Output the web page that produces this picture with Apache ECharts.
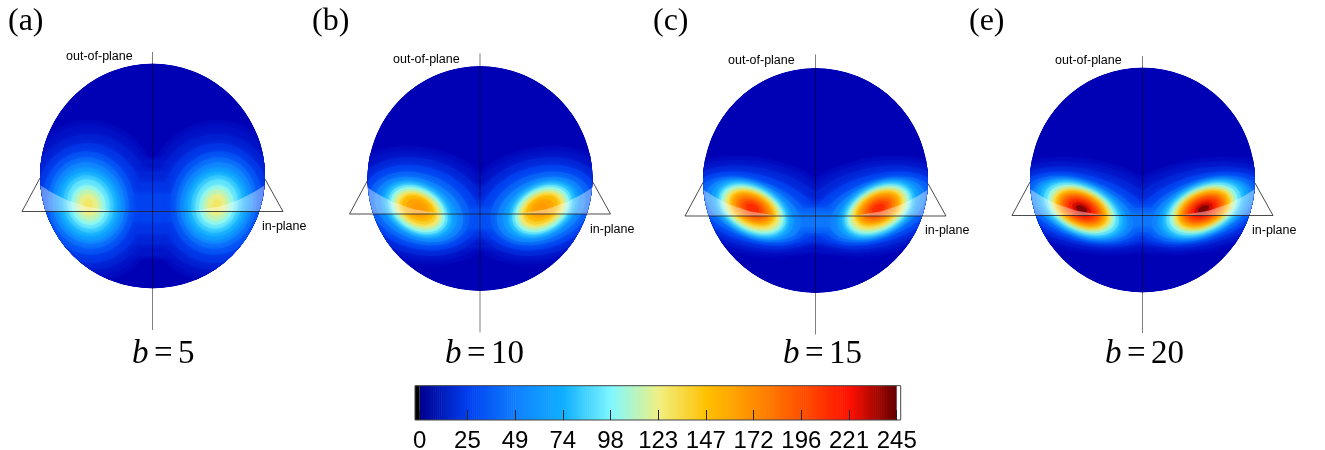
<!DOCTYPE html>
<html><head><meta charset="utf-8">
<style>html,body{margin:0;padding:0;background:#fff}#c{width:1325px;height:450px}</style>
<script src="https://cdn.jsdelivr.net/npm/echarts@6/dist/echarts.min.js"></script>
</head><body><div id="c"></div>
<script>
// Contour rows read from each sphere: [value, x, y, radiusX, radiusY, tiltDeg]; left lobe, right is its mirror
const panelA = [[0,0,0,112.5,112.5,0],[3,-62,-25,72,81,10],[6,-62,-25,68,76,10],[8,0,-32,104,48,0],[12,-62,-26,62,68,10],[14,0,-32,100,36,0],[20,-63,-27,54,60,10],[20,0,-32,95,25,0],[25,0,-32,90,14,0],[30,-64,-27,46,52,12],[40,-64,-27,40,46,12],[50,-64,-27,36,41,15],[60,-64,-28,32,37,15],[70,-64,-28,29,33,15],[80,-64,-28,25,29,15],[90,-64,-28,21,25,15],[100,-64,-29,17,20,15],[110,-64,-29,13,16,15],[120,-64,-29,9,11,15],[127,-64,-29,4,6,15]];
const panelB = [[0,0,0,112.5,112.5,0],[3,-60,-27,84,58,-12],[6,-60,-27,78,54,-12],[10,0,-38,105,30,0],[14,-60,-28,68,48,-14],[20,0,-40,100,18,0],[24,-60,-29,60,41,-16],[30,0,-40,90,10,0],[36,-61,-30,52,35,-18],[49,-61,-31,46,30,-22],[62,-61,-31,40,26,-25],[74,-62,-31,36,23,-28],[86,-62,-31,32,21.5,-30],[98,-62,-31,29,20,-30],[110,-62,-31,26,17,-30],[123,-62,-31,23,15,-30],[135,-62,-31,20,13,-30],[148,-62,-30,17,11,-30],[160,-62,-30,12,8,-30],[165,-62,-30,6,4,-30]];
const panelC = [[0,0,0,112.5,112.5,0],[3,-60,-26,90,49,-10],[6,0,-41,105,30,0],[7,-60,-26,84,45,-10],[14,-60,-27,75,40,-12],[20,0,-41,100,20,0],[24,-61,-28,66,34,-15],[36,-62,-29,58,29,-18],[36,0,-40,95,12,0],[45,0,-40,85,6,0],[49,-62,-29,50,26,-22],[62,-63,-29,44,24,-25],[74,-63,-29,39,23,-27],[86,-63,-29,36,21.5,-28],[98,-63,-29,33.5,20,-28],[110,-63,-29,31,18,-28],[123,-63,-29,28,16.5,-28],[135,-63,-28,25,14.5,-28],[147,-63,-28,23,13,-28],[160,-63,-28,21,12,-28],[172,-63,-28,18,10,-28],[185,-63,-28,15,8,-28],[198,-63,-28,11,6,-28],[210,-63,-28,7,4,-28]];
const panelE = [[0,0,0,112.5,112.5,0],[3,-58,-26,94,47,-10],[6,0,-41,105,30,0],[7,-58,-26,88,43,-10],[14,-58,-27,78,38,-12],[20,0,-41,100,20,0],[24,-59,-28,68,33,-15],[36,-60,-29,60,29,-18],[36,0,-40,95,12,0],[45,0,-40,85,6,0],[49,-60,-29,53,26,-20],[62,-61,-29,48,24.5,-22],[74,-61,-29,44,23,-24],[86,-61,-29,40,22,-25],[98,-61,-29,36,20.5,-25],[110,-61,-29,33,18.5,-25],[123,-61,-29,30,16.5,-25],[135,-61,-29,28,16,-25],[147,-61,-29,26,15,-25],[160,-61,-29,24,13,-25],[172,-61,-29,22,12,-25],[185,-61,-29,20,11,-25],[198,-61,-29,17,9,-25],[210,-61,-29,14,7,-25],[225,-61,-29,10,5,-25],[240,-61,-29,6,3,-25]];
const panelRows = [panelA, panelB, panelC, panelE];
const panelNames = ['(a)','(b)','(c)','(e)'];
const bValues = [5,10,15,20];
const scaleTicks = [0,24.5,49,73.5,98,122.5,147,171.5,196,220.5,245];
const scaleColors = ['#000090','#0040f0','#1080ff','#10b0ff','#80f8ff','#f0f080','#ffc000','#ff8c00','#ff5000','#ff1000','#600000'];
const sphereColors = ['#0000b4','#0040f0','#1080ff','#10b0ff','#80f8ff','#f0f080','#ffc000','#ff8c00','#ff5000','#ff1000','#600000'];
const planeEdge = [[-112.5,-9],[-102,-15.7],[-86,-24],[-66,-30.7],[-42,-34.7],[-20,-35.4],[0,-35.5],[20,-35.4],[42,-34.7],[66,-30.7],[86,-24],[102,-15.7],[112.5,-9],[112.5,-35.5],[-112.5,-35.5]];
const planeOutline = [[-112.5,-2],[-130.5,-35.5],[130.5,-35.5],[112.5,-3]];
const poleLines = [[[0,124],[0,-154]],[[0,125],[0,-154]],[[0,126],[0,-154]],[[0,124],[0,-153]]];

// layout
const centers = [[152.5,176],[480,178.5],[815.5,180.5],[1142.5,180]];
const labelX = [8,312,653,969], oopX = [66,393,728,1055], oopY = [56.5,59.5,60.5,60.5];
const inX = [262,590,925,1252], inY = [227,230,231,231], bX = [132,445,783,1105];
const R = 112.5;

const grids=[], xAxes=[], yAxes=[], series=[], graphic=[];
centers.forEach((c,i)=>{
  grids.push({left:c[0]-150,top:c[1]-130,width:300,height:300,show:false});
  xAxes.push({type:'value',gridIndex:i,min:-150,max:150,show:false});
  yAxes.push({type:'value',gridIndex:i,min:-170,max:130,show:false});
});
function ellipsePts(api,cx,cy,rx,ry,t){
  const th=t*Math.PI/180, out=[];
  for(let k=0;k<72;k++){
    const a=k/72*2*Math.PI, u=rx*Math.cos(a), v=ry*Math.sin(a);
    out.push(api.coord([cx+u*Math.cos(th)-v*Math.sin(th), cy+u*Math.sin(th)+v*Math.cos(th)]));
  }
  return out;
}
panelRows.forEach((rows,i)=>{
  series.push({type:'custom',xAxisIndex:i,yAxisIndex:i,z:2,silent:true,clip:false,
    encode:{x:1,y:2,value:0},
    dimensions:['value','x','y','rx','ry','tilt'],
    data:rows,
    renderItem(params,api){
      const v=[0,1,2,3,4,5].map(d=>api.value(d));
      const col=api.visual('color');
      const o=api.coord([0,0]);
      const clip={type:'circle',shape:{cx:o[0],cy:o[1],r:R}};
      const style={fill:col,shadowBlur:v[0]?6:0,shadowColor:col};
      const left={type:'polygon',shape:{points:ellipsePts(api,v[1],v[2],v[3],v[4],v[5])},style,clipPath:clip};
      const right={type:'polygon',shape:{points:ellipsePts(api,-v[1],v[2],v[3],v[4],-v[5])},style,clipPath:clip};
      return {type:'group',children:[left,right]};
    }});
});
centers.forEach((c,i)=>{
  series.push({type:'custom',xAxisIndex:i,yAxisIndex:i,z:3,silent:true,clip:false,data:[0],
    renderItem(params,api){
      const o=api.coord([0,0]);
      return {type:'polygon',shape:{points:planeEdge.map(p=>api.coord(p))},
        style:{fill:'rgba(255,255,255,0.38)'},clipPath:{type:'circle',shape:{cx:o[0],cy:o[1],r:R}}};
    }});
  const ls=(col,w)=>({color:col,width:w});
  series.push({type:'line',xAxisIndex:i,yAxisIndex:i,z:4,silent:true,showSymbol:false,clip:false,data:planeOutline,lineStyle:ls('rgba(30,30,30,0.8)',1)});
  series.push({type:'line',xAxisIndex:i,yAxisIndex:i,z:4,silent:true,showSymbol:false,clip:false,data:poleLines[i],lineStyle:ls('rgba(0,0,0,0.5)',1)});
  graphic.push({type:'text',x:labelX[i],y:22,z:20,silent:true,style:{text:panelNames[i],fill:'#000',font:'32px "Liberation Serif"',verticalAlign:'middle'}});
  graphic.push({type:'text',x:oopX[i],y:oopY[i],z:20,silent:true,style:{text:'out-of-plane',fill:'#000',font:'12.5px "Liberation Sans"',verticalAlign:'middle'}});
  graphic.push({type:'text',x:inX[i],y:inY[i],z:20,silent:true,style:{text:'in-plane',fill:'#000',font:'12.5px "Liberation Sans"',verticalAlign:'middle'}});
  graphic.push({type:'text',x:bX[i],y:354,z:20,silent:true,style:{text:'{i|b}{s| }={s| }'+bValues[i],fill:'#000',font:'33px "Liberation Serif"',verticalAlign:'middle',
    rich:{i:{font:'italic 33px "Liberation Serif"'},s:{font:'22px "Liberation Serif"'}}}});
});
// colour bar: one rect per unit of the scale
const barIdx=centers.length;
const scaleSteps=[]; for(let s=0;s<245;s++) scaleSteps.push([s]);
grids.push({left:415,top:385.7,width:485.7,height:34.3,show:false,outerBoundsMode:'none'});
xAxes.push({type:'value',gridIndex:barIdx,min:-2.4,max:247.05,z:10,
  axisLine:{show:false},splitLine:{show:false},
  axisTick:{show:true,inside:true,length:10,customValues:scaleTicks,lineStyle:{color:'#222',width:1}},
  axisLabel:{show:true,customValues:scaleTicks,margin:9,color:'#000',fontFamily:'Liberation Sans',fontSize:24,hideOverlap:false,formatter:v=>String(Math.round(v))}});
yAxes.push({type:'value',gridIndex:barIdx,min:0,max:1,show:false});
const stepIndex=series.length;
series.push({type:'custom',xAxisIndex:barIdx,yAxisIndex:barIdx,z:5,silent:true,clip:false,
  encode:{x:0},dimensions:['value'],data:scaleSteps,
  renderItem(params,api){
    const s=api.value(0), a=api.coord([s,1]), b=api.coord([s+1,0]);
    return {type:'rect',shape:{x:a[0],y:a[1],width:b[0]-a[0]+0.6,height:b[1]-a[1]},style:{fill:api.visual('color')}};
  }});
series.push({type:'custom',xAxisIndex:barIdx,yAxisIndex:barIdx,z:6,silent:true,clip:false,
  data:[[-2.4,0],[245,247.05]],
  renderItem(params,api){
    const a=api.coord([api.value(0),1]), b=api.coord([api.value(1),0]);
    return {type:'rect',shape:{x:a[0],y:a[1],width:b[0]-a[0],height:b[1]-a[1]},style:{fill:params.dataIndex?'#fff':'#000'}};
  }});
series.push({type:'custom',xAxisIndex:barIdx,yAxisIndex:barIdx,z:7,silent:true,clip:false,data:[0],
  renderItem(params,api){
    const a=api.coord([-2.4,1]), b=api.coord([247.05,0]);
    return {type:'rect',shape:{x:a[0],y:a[1],width:b[0]-a[0],height:b[1]-a[1]},style:{fill:'none',stroke:'#444',lineWidth:1}};
  }});

const chart=echarts.init(document.getElementById('c'),null,{renderer:'canvas'});
chart.setOption({
  animation:false,backgroundColor:'#fff',
  grid:grids,xAxis:xAxes,yAxis:yAxes,series,graphic,
  visualMap:[
    {type:'continuous',show:false,min:0,max:245,dimension:0,seriesIndex:[0,1,2,3],inRange:{color:sphereColors}},
    {type:'continuous',show:false,min:0,max:245,dimension:0,seriesIndex:[stepIndex],inRange:{color:scaleColors}}
  ]
});
</script></body></html>
